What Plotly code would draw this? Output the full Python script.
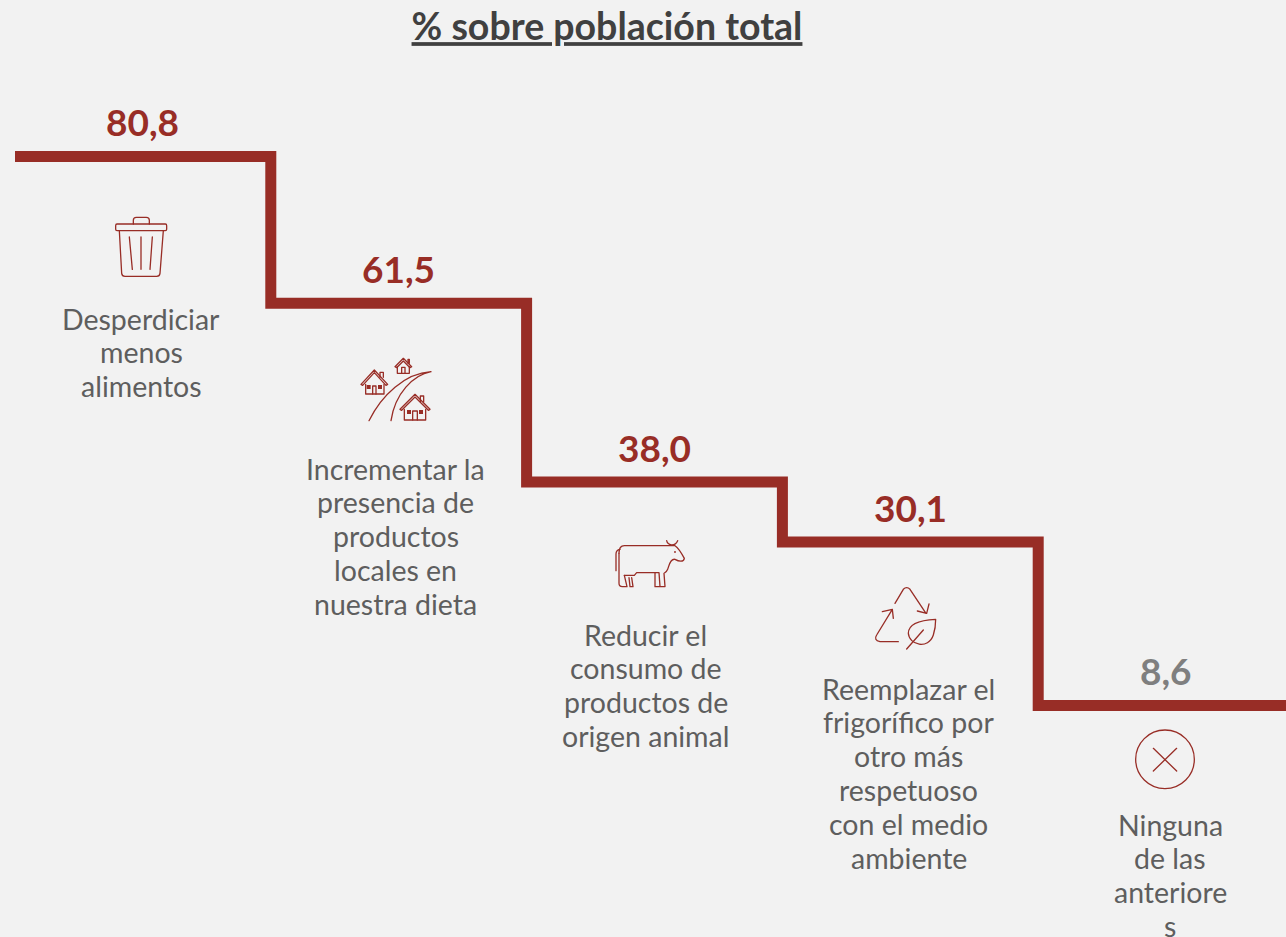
import base64
import plotly.graph_objects as go

TITLE = "% sobre población total"
categories = [
    "Desperdiciar<br>menos<br>alimentos",
    "Incrementar la<br>presencia de<br>productos<br>locales en<br>nuestra dieta",
    "Reducir el<br>consumo de<br>productos de<br>origen animal",
    "Reemplazar el<br>frigorífico por<br>otro más<br>respetuoso<br>con el medio<br>ambiente",
    "Ninguna<br>de las<br>anteriore<br>s",
]
values = [80.8, 61.5, 38.0, 30.1, 8.6]
value_labels = ["80,8", "61,5", "38,0", "30,1", "8,6"]

W, H = 1286, 937
BG = "#f2f2f2"
RED = "#982d26"
GREY = "#5e5e5e"
FONT = "Lato"

label_x_px = [141, 395.5, 645.5, 908.5, 1170]
label_first_line_px = [318.5, 468.5, 634.5, 688.5, 824.5]
LINE_STEP = 33.8


def svg(w, h, body):
    s = (f'<svg xmlns="http://www.w3.org/2000/svg" width="{w*3}" height="{h*3}" viewBox="0 0 {w*3} {h*3}">'
         f'<g fill="none" stroke="{RED}" stroke-width="3.9" stroke-linecap="round" stroke-linejoin="round">{body}</g></svg>')
    return "data:image/svg+xml;base64," + base64.b64encode(s.encode()).decode()


trash = ('<path d="M51 57H196Q200 57 200 62V73Q200 77 196 77H51Q47 77 47 73V62Q47 57 51 57Z"/>'
         '<path d="M100 57V46Q100 37 109 37H139Q148 37 148 46V57"/>'
         '<path d="M58 77L65 205Q66 214 75 214H170Q179 214 180 205L190 77"/>'
         '<path d="M88 96L97 193M123 96V193M157 96L150 193"/>')


def house(ax, ay, hw, bl, br, bb, roof_h, win=None, door=None, chim=None):
    out = (f'<path d="M{ax-hw} {ay+roof_h}L{ax} {ay}L{ax+hw} {ay+roof_h}L{ax+hw-5} {ay+roof_h+3}L{ax} {ay+8}L{ax-hw+5} {ay+roof_h+3}Z"/>'
           f'<path d="M{bl} {ay+roof_h}V{bb}H{br}V{ay+roof_h}"/>')
    if win:
        for wx, wy, ws in win:
            out += f'<rect x="{wx}" y="{wy}" width="{ws}" height="{ws}" fill="{RED}" stroke="none"/>'
    if door:
        out += f'<path d="M{door[0]} {bb}V{door[2]}H{door[1]}V{bb}"/>'
    if chim:
        out += f'<path d="M{chim[0]} {chim[3]}V{chim[2]}H{chim[1]}V{chim[3]}"/>'
    return out


houses = (house(73, 60, 40, 47, 102, 132, 43, [(50, 105, 12), (84, 105, 12)], (68, 78, 108), (90, 100, 67, 82))
          + house(160, 25, 25, 142, 178, 70, 25, None, (155, 165, 52), (174, 178, 28, 40))
          + house(195, 133, 45, 163, 227, 210, 45, [(171, 180, 12), (207, 180, 12)], (188, 202, 183), (211, 221, 138, 155))
          + '<path d="M57 212C95 135 165 70 243 65C190 75 135 130 123 212" />')

cow = ('<path d="M185 32C188 47 210 50 218 32"/>'
       '<path d="M33 122V72Q33 60 45 58"/>'
       '<path d="M42 70Q42 47 58 47H210Q222 55 238 85C236 97 222 95 210 88C195 85 192 108 188 118Q184 128 177 130L180 170H165L162 128H150V170H172"/>'
       '<path d="M150 128H95L88 136H58"/>'
       '<path d="M42 70V160Q42 170 52 170H66L58 136"/>'
       '<path d="M72 143L75 170H84L80 143"/>'
       '<circle cx="210" cy="66" r="1" fill="%s"/>' % RED)

recycle = ('<path d="M90 70L115 28Q125 18 135 28L183 100M157 93L185 100L192 72"/>'
           '<path d="M100 185H45Q25 180 35 165L82 88M52 95L82 88L85 115"/>'
           '<path d="M212 118C170 120 130 130 130 160C132 195 190 210 205 165C210 150 212 130 212 118Z"/>'
           '<path d="M125 207L175 150"/>')

cross = ('<circle cx="120" cy="118" r="88"/>'
         '<path d="M85 85L155 153M155 85L85 153"/>')

icons = [
    (100, 205, 80, 80, trash),
    (350, 350, 90, 80, houses),
    (605, 530, 90, 65, cow),
    (865, 580, 80, 75, recycle),
    (1125, 720, 80, 80, cross),
]

# step line: each category occupies one unit on the x axis
edges = list(range(len(values) + 1))
fig = go.Figure(go.Scatter(
    x=edges,
    y=values + [values[-1]],
    mode="lines",
    line=dict(color=RED, width=11, shape="hv"),
    hoverinfo="skip",
    showlegend=False,
))

centers = [i + 0.5 for i in range(len(values))]
for i, (c, v, t) in enumerate(zip(centers, values, value_labels)):
    fig.add_annotation(
        x=c, y=v, xref="x", yref="y", text=f"<b>{t}</b>", showarrow=False,
        yanchor="bottom", yshift=10.5,
        font=dict(family=FONT, size=37, color="#7f7f7f" if i == 4 else RED),
    )

for cat, lx, ly in zip(categories, label_x_px, label_first_line_px):
    for j, part in enumerate(cat.split("<br>")):
        fig.add_annotation(
            x=lx / W, y=1 - (ly + j * LINE_STEP) / H, xref="paper", yref="paper", text=part,
            showarrow=False, xanchor="center", yanchor="middle", align="center",
            font=dict(family=FONT, size=28.5, color=GREY),
        )

fig.update_layout(
    width=W, height=H,
    margin=dict(l=0, r=0, t=0, b=0, pad=0),
    paper_bgcolor=BG, plot_bgcolor=BG,
    title=dict(
        text=f"<b>{TITLE}</b>", x=607 / W, xanchor="center", y=1 - 27 / H, yanchor="middle",
        font=dict(family=FONT, size=37.5, color="#404040", lineposition="under"),
    ),
    xaxis=dict(visible=False, range=[-15 / 255.8, (W - 15) / 255.8], fixedrange=True),
    yaxis=dict(visible=False, range=[80.8 - (H - 156.6) / 7.604, 80.8 + 156.6 / 7.604], fixedrange=True),
    images=[
        dict(source=svg(w, h, body), xref="paper", yref="paper",
             x=px / W, y=1 - py / H, sizex=w / W, sizey=h / H,
             xanchor="left", yanchor="top", sizing="stretch", layer="above")
        for px, py, w, h, body in icons
    ],
)

fig.write_html("out.html", post_script="document.body.style.margin='0';document.documentElement.style.overflow='hidden';",
               config={"displayModeBar": False})
